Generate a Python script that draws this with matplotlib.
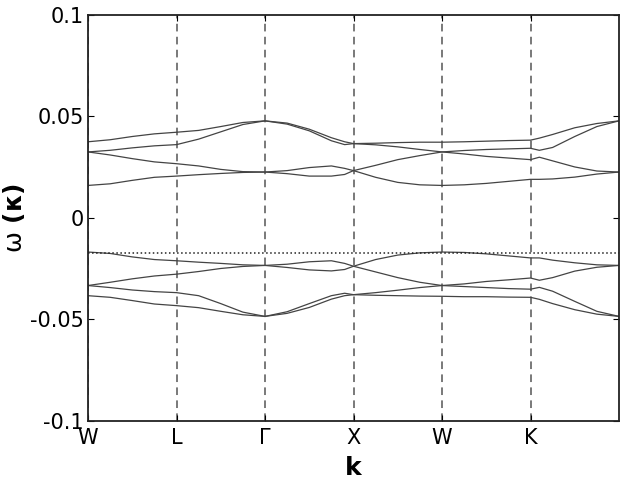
import matplotlib
matplotlib.use("Agg")
import matplotlib.pyplot as plt

plt.rcParams["mathtext.default"] = "rm"

kx = [0, .25, .5, .75, 1, 1.25, 1.5, 1.75, 2, 2.25, 2.5, 2.75, 2.9, 3,
      3.25, 3.5, 3.75, 4, 4.25, 4.5, 4.75, 5, 5.1, 5.25, 5.5, 5.75, 6]

u1 = [0.0375, 0.0385, 0.0401, 0.0414, 0.0422, 0.0431, 0.0450, 0.0470, 0.0478,
      0.0467, 0.0437, 0.0395, 0.0375, 0.0366, 0.0368, 0.0371, 0.0373, 0.0373,
      0.0375, 0.0378, 0.0381, 0.0383, 0.0393, 0.0411, 0.0444, 0.0465, 0.0478]
u2 = [0.0325, 0.0333, 0.0345, 0.0355, 0.0361, 0.0388, 0.0424, 0.0460, 0.0478,
      0.0462, 0.0429, 0.0380, 0.0361, 0.0366, 0.0360, 0.0350, 0.0337, 0.0325,
      0.0332, 0.0337, 0.0340, 0.0343, 0.0333, 0.0347, 0.0401, 0.0450, 0.0478]
u3 = [0.0325, 0.0310, 0.0292, 0.0276, 0.0267, 0.0256, 0.0239, 0.0228, 0.0226,
      0.0233, 0.0248, 0.0256, 0.0244, 0.0233, 0.0259, 0.0287, 0.0307, 0.0325,
      0.0315, 0.0303, 0.0295, 0.0287, 0.0299, 0.0281, 0.0251, 0.0231, 0.0226]
u4 = [0.0160, 0.0168, 0.0185, 0.0200, 0.0206, 0.0213, 0.0219, 0.0224, 0.0226,
      0.0218, 0.0206, 0.0206, 0.0214, 0.0233, 0.0200, 0.0175, 0.0163, 0.0160,
      0.0163, 0.0170, 0.0180, 0.0190, 0.0190, 0.0192, 0.0201, 0.0216, 0.0226]

l1 = [-0.0168, -0.0175, -0.0192, -0.0205, -0.0211, -0.0218, -0.0224, -0.0231, -0.0234,
      -0.0228, -0.0216, -0.0211, -0.0224, -0.0238, -0.0205, -0.0183, -0.0172, -0.0168,
      -0.0170, -0.0177, -0.0187, -0.0197, -0.0197, -0.0208, -0.0221, -0.0231, -0.0234]
l2 = [-0.0333, -0.0317, -0.0300, -0.0286, -0.0277, -0.0264, -0.0249, -0.0239, -0.0234,
      -0.0244, -0.0256, -0.0261, -0.0254, -0.0238, -0.0266, -0.0294, -0.0317, -0.0333,
      -0.0325, -0.0313, -0.0305, -0.0296, -0.0307, -0.0294, -0.0262, -0.0243, -0.0234]
l3 = [-0.0333, -0.0343, -0.0355, -0.0363, -0.0368, -0.0383, -0.0422, -0.0464, -0.0485,
      -0.0462, -0.0422, -0.0383, -0.0371, -0.0378, -0.0368, -0.0356, -0.0343, -0.0333,
      -0.0338, -0.0343, -0.0348, -0.0351, -0.0342, -0.0361, -0.0411, -0.0460, -0.0485]
l4 = [-0.0383, -0.0391, -0.0407, -0.0424, -0.0432, -0.0442, -0.0460, -0.0477, -0.0485,
      -0.0470, -0.0441, -0.0400, -0.0383, -0.0378, -0.0381, -0.0383, -0.0385, -0.0386,
      -0.0388, -0.0388, -0.0390, -0.0391, -0.0401, -0.0422, -0.0452, -0.0474, -0.0485]

bands = [u1, u2, u3, u4, l1, l2, l3, l4]

sym_pos = [0, 1, 2, 3, 4, 5]
sym_labels = ["W", "L", "Γ", "X", "W", "K"]
y_ticks = [-0.1, -0.05, 0, 0.05, 0.1]
y_tick_labels = ["-0.1", "-0.05", "0", "0.05", "0.1"]
fermi_level = -0.0173

fig = plt.figure(figsize=(6.4, 4.8), dpi=100)
ax = fig.add_axes([0.1375, 0.123, 0.8297, 0.846])

for b in bands:
    ax.plot(kx, b, color="#444444", lw=0.9, solid_joinstyle="round")

for p in sym_pos:
    ax.axvline(p, color="#555555", ls=(0, (5, 3.5)), lw=1.1, zorder=0)
ax.axhline(fermi_level, color="#222222", ls=":", lw=1.1)

ax.set_xlim(0, 6)
ax.set_ylim(-0.1, 0.1)
ax.set_xticks(sym_pos)
ax.set_xticklabels(sym_labels)
ax.set_yticks(y_ticks)
ax.set_yticklabels(y_tick_labels)
ax.tick_params(direction="in", labelsize=15, top=True, right=True, length=4, pad=3)
ax.tick_params(axis="x", pad=5)
for s in ax.spines.values():
    s.set_linewidth(1.3)
    s.set_color("#222222")

ax.set_xlabel("k", fontsize=18, fontweight="bold", labelpad=6)
ax.set_ylabel(r"$\omega$ (κ)", fontsize=18, fontweight="bold", labelpad=2)

fig.savefig("out.png", dpi=100)
